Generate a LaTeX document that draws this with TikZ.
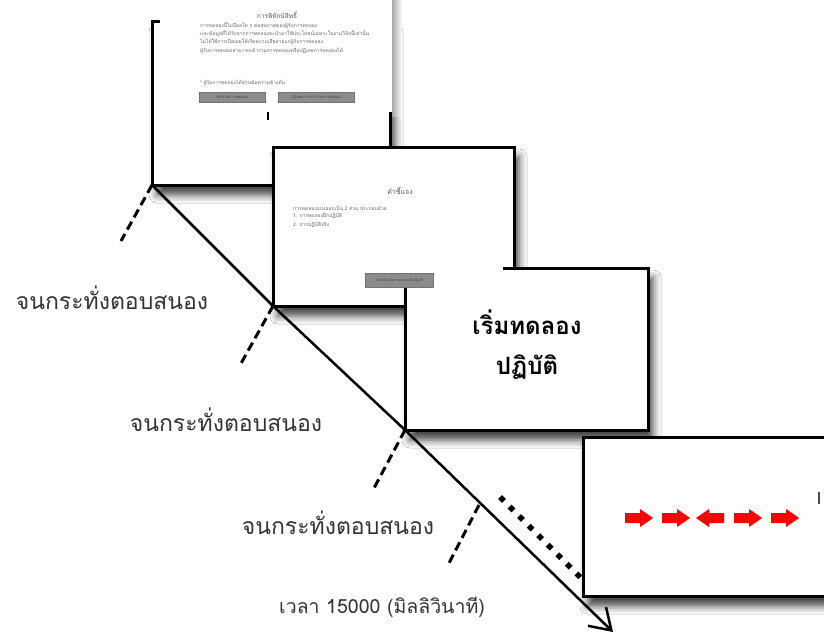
\documentclass[tikz,border=0pt]{standalone}
\usepackage{fontspec}
\newfontfamily\thai[Script=Thai]{Loma}
\usetikzlibrary{shadows.blur,arrows.meta}
\begin{document}
\begin{tikzpicture}[x=1pt,y=-1pt,
  frame/.style={draw=black, line width=3pt, fill=white, inner sep=0pt, outer sep=0pt, anchor=north west,
    blur shadow={shadow xshift=5pt, shadow yshift=-10pt, shadow blur radius=8pt, shadow opacity=75}},
  shot/.style={fill=white, inner sep=0pt, outer sep=0pt, anchor=north west},
  tiny/.style={font=\thai\fontsize{5}{6}\selectfont, text=black!60, inner sep=0pt, anchor=west},
  ttl/.style={font=\thai\fontsize{6.5}{7}\selectfont, text=black!65, inner sep=0pt},
  btn/.style={fill=black!45, draw=black!55, line width=0.4pt, inner sep=0pt, anchor=north west,
    font=\thai\fontsize{4}{5}\selectfont, text=black!75},
  lbl/.style={font=\thai\fontsize{23}{27}\selectfont, text=black!80, inner sep=0pt},
  big/.style={font=\thai\bfseries\fontsize{24}{28}\selectfont, inner sep=0pt},
  tick/.style={line width=3pt, dash pattern=on 9pt off 5pt},
  dots/.style={line width=5.5pt, dash pattern=on 5.5pt off 8pt},
  mainline/.style={line width=2.5pt, -{Straight Barb[length=20pt, width=26pt]}},
  rarr/.pic={\fill[red] (0,-5) -- (15,-5) -- (15,-9) -- (28,0) -- (15,9) -- (15,5) -- (0,5) -- cycle;}
]
\useasboundingbox[fill=white] (0,0) rectangle (824,634);

% screen 1
\node[frame, minimum width=238pt, minimum height=163pt] (s1) at (152,22) {};
\node[shot, minimum width=232pt, minimum height=116pt] (shot1) at (160,-4) {};
\fill[left color=black!35, right color=white] (shot1.north east) rectangle ([xshift=10pt,yshift=-4pt]shot1.south east);
\node[ttl] (t1) at (277,15) {การพิทักษ์สิทธิ์};
\node[tiny] (t1a) at (200,26) {การทดลองนี้ไม่มีผลใด ๆ ต่อสุขภาพของผู้รับการทดลอง};
\node[tiny] (t1b) at (200,34) {และข้อมูลที่ได้รับจากการทดลองจะนำมาใช้ประโยชน์เฉพาะในงานวิจัยนี้เท่านั้น};
\node[tiny] (t1c) at (200,42) {ไม่ได้ใช้การเปิดเผยให้เกิดความเสียหายแก่ผู้รับการทดลอง};
\node[tiny] (t1d) at (200,51) {ผู้รับการทดลองสามารถเข้าร่วมการทดลองหรือปฏิเสธการทดลองได้};
\node[tiny] (t1e) at (200,83) {* ผู้รับการทดลองได้อ่านข้อความข้างต้น};
\node[btn, minimum width=66pt, minimum height=10pt] (b1) at (199,92) {เข้าร่วมการทดลอง};
\node[btn, minimum width=76pt, minimum height=10pt] (b2) at (278,92) {ปฏิเสธการเข้าร่วมการทดลอง};
\node[fill=black, minimum width=2.5pt, minimum height=8pt, inner sep=0pt, anchor=north] (cur1) at (268,112) {};

% screen 2 and 3
\node[frame, minimum width=241pt, minimum height=159pt] (s2) at (273,147) {};
\node[frame, minimum width=243pt, minimum height=162pt] (s3) at (405,268) {};
\node[shot, minimum width=225pt, minimum height=136pt] (shot2) at (278,152) {};
\node[ttl, font=\thai\fontsize{7}{8}\selectfont] (t2) at (400,191) {คำชี้แจง};
\node[tiny] (t2a) at (293,208) {การทดลองแบ่งออกเป็น 2 ส่วน ประกอบด้วย};
\node[tiny] (t2b) at (293,216) {1. การทดลองฝึกปฏิบัติ};
\node[tiny] (t2c) at (293,225) {2. การปฏิบัติจริง};
\node[btn, minimum width=68pt, minimum height=14pt, font=\thai\fontsize{3.5}{4}\selectfont] (b3) at (365,273) {คลิกเพื่อเริ่มการทดลองฝึกปฏิบัติ};
\node[big] (go1) at (527,322) {เริ่มทดลอง};
\node[big] (go2) at (527,367) {ปฏิบัติ};

% dotted line to screen 4
\coordinate (p1) at (500,497);
\coordinate (p2) at (582,579);
\draw[dots] (p1) -- (p2);

% screen 4
\node[frame, minimum width=270pt, minimum height=159pt] (s4) at (583,437) {};
\foreach \x in {625,662,734,771} \pic at (\x,518) {rarr};
\pic[xscale=-1] at (724,518) {rarr};
\node[fill=black!70, minimum width=1.5pt, minimum height=12pt, inner sep=0pt] (cur2) at (819,498) {};

% time axis
\coordinate (tip) at (613,632);
\draw[mainline] (s1.south west) -- (s2.south west) -- (s3.south west) -- (tip);

% dashed ticks
\coordinate (d1) at (121,241);
\coordinate (d2) at (239,367);
\coordinate (d3) at (373,490);
\coordinate (d4a) at (479,505);
\coordinate (d4) at (447,567);
\draw[tick] (s1.south west) -- (d1);
\draw[tick] (s2.south west) -- (d2);
\draw[tick] (s3.south west) -- (d3);
\draw[tick] (d4a) -- (d4);

% labels
\node[lbl] (l1) at (112,298) {จนกระทั่งตอบสนอง};
\node[lbl] (l2) at (226,420) {จนกระทั่งตอบสนอง};
\node[lbl] (l3) at (338,523) {จนกระทั่งตอบสนอง};
\node[lbl, font=\thai\fontsize{19.5}{23}\selectfont] (l4) at (382,607) {เวลา 15000 (มิลลิวินาที)};
\end{tikzpicture}
\end{document}
